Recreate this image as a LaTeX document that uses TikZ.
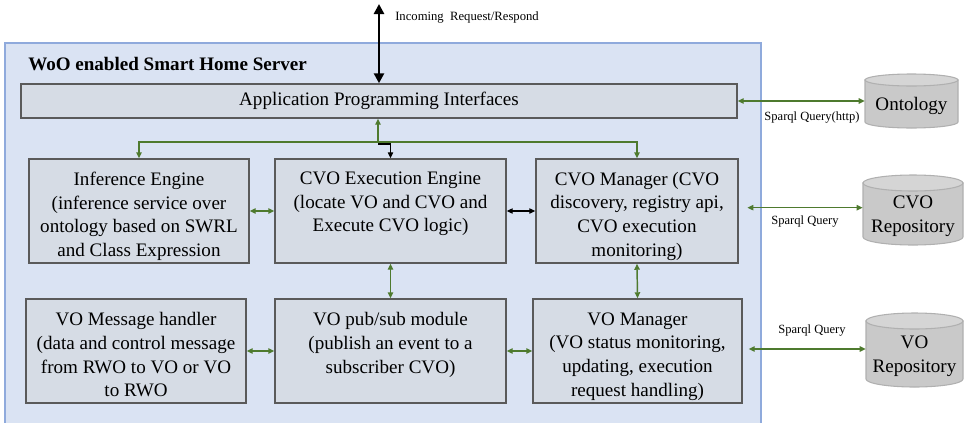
\documentclass[tikz,border=0pt]{standalone}
\usepackage{fontspec}
\setmainfont{Liberation Serif}
\usetikzlibrary{arrows.meta,fit,calc}

\definecolor{srvfill}{HTML}{DAE3F3}
\definecolor{srvline}{HTML}{8FAADC}
\definecolor{boxfill}{HTML}{D6DCE5}
\definecolor{boxline}{HTML}{5A5A5A}
\definecolor{grn}{HTML}{4E7A2E}
\definecolor{drumbody}{HTML}{C9C9C9}
\definecolor{drumtop}{HTML}{D5D5D5}
\definecolor{drumline}{HTML}{B0B0B0}

\newcommand\mainfs{\fontsize{14.3}{17.8}\selectfont}
\newcommand\smallfs{\fontsize{9.4}{11}\selectfont}

% database drum: left, top, right, bottom, cap half-height (picture units)
\newcommand\dbdrum[5]{%
  \path[drumshape] (#1,#2+#5) -- (#1,#4-#5)
    arc[start angle=180, end angle=0, x radius={(#3-#1)/2}, y radius=#5]
    -- (#3,#2+#5) -- cycle;
  \path[drumshape, fill=drumtop] ({(#1+#3)/2},#2+#5)
    ellipse[x radius={(#3-#1)/2}, y radius=#5];
}

\begin{document}
\begin{tikzpicture}[x=0.75pt, y=-0.75pt,
  >={Triangle[length=4.5pt,width=4pt]},
  server/.style={fill=srvfill, draw=srvline, line width=0.9pt},
  modbox/.style={draw=boxline, fill=boxfill, line width=1.1pt, inner sep=0pt},
  modtext/.style={align=center, font=\mainfs, inner sep=0pt, anchor=north},
  drumshape/.style={fill=drumbody, draw=drumline, line width=0.8pt},
  drumarea/.style={inner sep=0pt},
  drumtext/.style={align=center, font=\mainfs, inner sep=0pt},
  garrow/.style={draw=grn, line width=1.1pt},
  karrow/.style={draw=black, line width=0.9pt},
  bigarrow/.style={draw=black, line width=2.2pt,
    {Triangle[length=7.5pt,width=7.5pt]}-{Triangle[length=7.5pt,width=7.5pt]}},
  qlabel/.style={font=\smallfs, inner sep=0pt}]

\useasboundingbox (0,0) rectangle (964,422);

% server frame
\path[server] (5,43) rectangle (761,428);
\node[font=\mainfs\bfseries, anchor=west, inner sep=0pt] (title) at (28,64)
  {WoO enabled Smart Home Server};

% API bar
\node[modbox, fit={(21,84) (737,118)}] (api) {};
\node[font=\mainfs, inner sep=0pt] (apitxt) at (api.center)
  {Application Programming Interfaces};

% module boxes
\node[modbox, fit={(29,159) (249,263)}] (inf) {};
\node[modbox, fit={(275,159) (506,263)}] (exec) {};
\node[modbox, fit={(536,159) (738,263)}] (cvomgr) {};
\node[modbox, fit={(26,299) (246,403)}] (msg) {};
\node[modbox, fit={(275,299) (506,403)}] (pubsub) {};
\node[modbox, fit={(533,299) (742,403)}] (vomgr) {};

\node[modtext] (inftxt) at ([yshift=-10pt]inf.north)
  {Inference Engine\\(inference service over\\ontology based on SWRL\\and Class Expression};
\node[modtext] (exectxt) at ([yshift=-10pt]exec.north)
  {CVO Execution Engine\\(locate VO and CVO and\\Execute CVO logic)};
\node[modtext] (cvomgrtxt) at ([yshift=-10pt]cvomgr.north)
  {CVO Manager (CVO\\discovery, registry api,\\CVO execution\\monitoring)};
\node[modtext] (msgtxt) at ([yshift=-10.5pt]msg.north)
  {VO Message handler\\(data and control message\\from RWO to VO or VO\\to RWO};
\node[modtext] (pubsubtxt) at ([yshift=-10.5pt]pubsub.north)
  {VO pub/sub module\\(publish an event to a\\subscriber CVO)};
\node[modtext] (vomgrtxt) at ([yshift=-10.5pt]vomgr.north)
  {VO Manager\\(VO status monitoring,\\updating, execution\\request handling)};

% repositories
\dbdrum{865}{74}{958}{128}{6}
\dbdrum{863}{175}{963}{245}{8}
\dbdrum{866}{313}{963}{387}{8}
\node[drumarea, fit={(865,74) (958,128)}] (onto) {};
\node[drumarea, fit={(863,175) (963,245)}] (cvorepo) {};
\node[drumarea, fit={(866,313) (963,387)}] (vorepo) {};
\node[drumtext] (ontotxt) at ([yshift=-4pt]onto.center) {Ontology};
\node[drumtext] (cvorepotxt) at ([yshift=-4.5pt]cvorepo.center) {CVO\\Repository};
\node[drumtext] (vorepotxt) at ([yshift=-4.5pt]vorepo.center) {VO\\Repository};

% incoming requests
\coordinate (ext) at (379,4);
\draw[bigarrow] (ext) -- (ext |- api.north);
\node[font=\fontsize{9.5}{11}\selectfont, anchor=west, inner sep=0pt] (extlbl)
  at (395,17) {Incoming\ \ Request/Respond};

% distribution from the API bar
\coordinate (hub) at (378,142);
\coordinate (hubk) at (378,144);
\draw[garrow,->] (hub) -- (hub |- api.south);
\draw[garrow,->] (hub) -| (inf.north);
\draw[garrow,->] (hub) -| (cvomgr.north);
\draw[karrow,->] (hubk) -| (exec.north);

% links between modules
\draw[garrow,<->] (inf.east) -- (exec.west);
\draw[karrow,<->] (exec.east) -- (cvomgr.west);
\draw[garrow,<->] (exec.south) -- (pubsub.north);
\draw[garrow,<->] (cvomgr.south) -- (vomgr.north);
\draw[garrow,<->] (msg.east) -- (pubsub.west);
\draw[garrow,<->] (pubsub.east) -- (vomgr.west);

% queries to the stores
\draw[garrow,<->] (api.east) -- (onto.west);
\draw[garrow,<->,shorten <=6.5pt] ([yshift=2.5pt]cvomgr.east) -- ([yshift=2.5pt]cvomgr.east -| cvorepo.west);
\draw[garrow,<->,shorten <=4.5pt] ([yshift=1.5pt]vomgr.east) -- ([yshift=1.5pt]vomgr.east -| vorepo.west);
\node[qlabel] (q1) at (812,117) {Sparql Query(http)};
\node[qlabel] (q2) at (805,221) {Sparql Query};
\node[qlabel] (q3) at (812,330) {Sparql Query};

\end{tikzpicture}
\end{document}
